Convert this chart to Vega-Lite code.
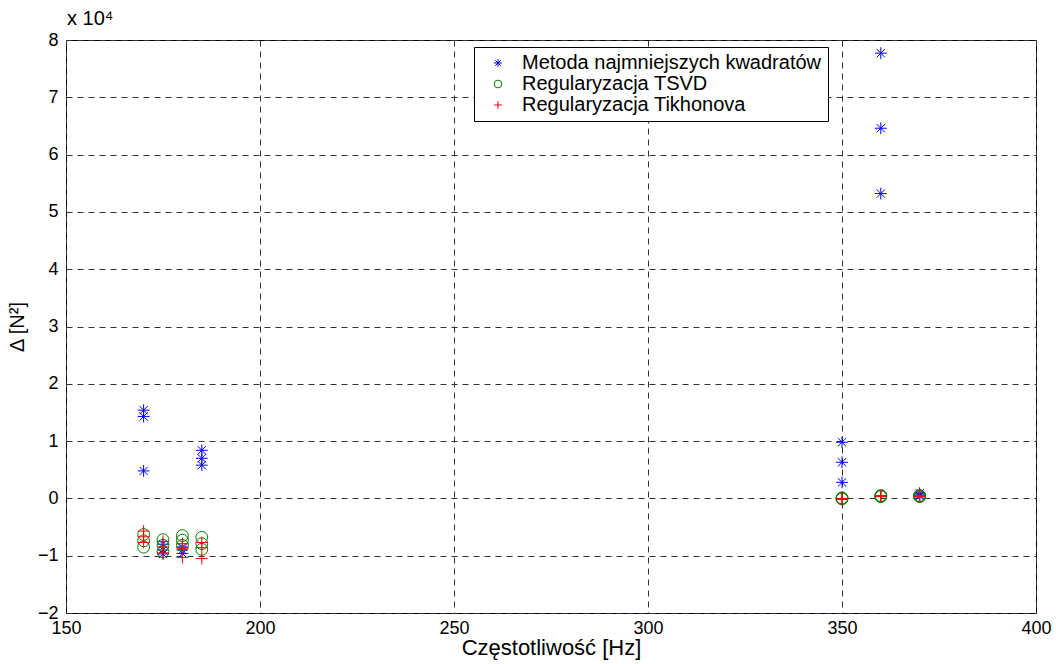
{
  "$schema": "https://vega.github.io/schema/vega-lite/v6.json",
  "width": 970,
  "height": 573,
  "autosize": {"type": "none"},
  "padding": {"left": 66, "top": 40, "right": 20, "bottom": 51},
  "background": "white",
  "config": {
    "font": "Liberation Sans",
    "view": {"stroke": "black", "strokeWidth": 1}
  },
  "title": {
    "text": "x 10⁴",
    "anchor": "start",
    "frame": "group",
    "fontSize": 20,
    "fontWeight": "normal",
    "font": "Liberation Sans",
    "color": "black",
    "offset": 2,
    "dx": 1
  },
  "data": {
    "values": [
      {"f": 170, "d": 15400, "m": "Metoda najmniejszych kwadratów"},
      {"f": 170, "d": 14300, "m": "Metoda najmniejszych kwadratów"},
      {"f": 170, "d": 4800, "m": "Metoda najmniejszych kwadratów"},
      {"f": 175, "d": -8000, "m": "Metoda najmniejszych kwadratów"},
      {"f": 175, "d": -9000, "m": "Metoda najmniejszych kwadratów"},
      {"f": 175, "d": -9700, "m": "Metoda najmniejszych kwadratów"},
      {"f": 180, "d": -8500, "m": "Metoda najmniejszych kwadratów"},
      {"f": 180, "d": -9000, "m": "Metoda najmniejszych kwadratów"},
      {"f": 180, "d": -9600, "m": "Metoda najmniejszych kwadratów"},
      {"f": 185, "d": 8400, "m": "Metoda najmniejszych kwadratów"},
      {"f": 185, "d": 7000, "m": "Metoda najmniejszych kwadratów"},
      {"f": 185, "d": 5800, "m": "Metoda najmniejszych kwadratów"},
      {"f": 350, "d": 9800, "m": "Metoda najmniejszych kwadratów"},
      {"f": 350, "d": 6300, "m": "Metoda najmniejszych kwadratów"},
      {"f": 350, "d": 2800, "m": "Metoda najmniejszych kwadratów"},
      {"f": 360, "d": 77700, "m": "Metoda najmniejszych kwadratów"},
      {"f": 360, "d": 64600, "m": "Metoda najmniejszych kwadratów"},
      {"f": 360, "d": 53200, "m": "Metoda najmniejszych kwadratów"},
      {"f": 370, "d": 900, "m": "Metoda najmniejszych kwadratów"},
      {"f": 370, "d": 600, "m": "Metoda najmniejszych kwadratów"},
      {"f": 370, "d": 400, "m": "Metoda najmniejszych kwadratów"},
      {"f": 170, "d": -6300, "m": "Regularyzacja TSVD"},
      {"f": 170, "d": -7400, "m": "Regularyzacja TSVD"},
      {"f": 170, "d": -8500, "m": "Regularyzacja TSVD"},
      {"f": 175, "d": -7200, "m": "Regularyzacja TSVD"},
      {"f": 175, "d": -8200, "m": "Regularyzacja TSVD"},
      {"f": 175, "d": -9300, "m": "Regularyzacja TSVD"},
      {"f": 180, "d": -6500, "m": "Regularyzacja TSVD"},
      {"f": 180, "d": -7300, "m": "Regularyzacja TSVD"},
      {"f": 180, "d": -8200, "m": "Regularyzacja TSVD"},
      {"f": 185, "d": -6800, "m": "Regularyzacja TSVD"},
      {"f": 185, "d": -7900, "m": "Regularyzacja TSVD"},
      {"f": 185, "d": -8900, "m": "Regularyzacja TSVD"},
      {"f": 350, "d": 100, "m": "Regularyzacja TSVD"},
      {"f": 350, "d": 0, "m": "Regularyzacja TSVD"},
      {"f": 350, "d": -100, "m": "Regularyzacja TSVD"},
      {"f": 360, "d": 500, "m": "Regularyzacja TSVD"},
      {"f": 360, "d": 400, "m": "Regularyzacja TSVD"},
      {"f": 360, "d": 300, "m": "Regularyzacja TSVD"},
      {"f": 370, "d": 500, "m": "Regularyzacja TSVD"},
      {"f": 370, "d": 400, "m": "Regularyzacja TSVD"},
      {"f": 370, "d": 300, "m": "Regularyzacja TSVD"},
      {"f": 170, "d": -5700, "m": "Regularyzacja Tikhonova"},
      {"f": 170, "d": -6700, "m": "Regularyzacja Tikhonova"},
      {"f": 170, "d": -7700, "m": "Regularyzacja Tikhonova"},
      {"f": 175, "d": -7500, "m": "Regularyzacja Tikhonova"},
      {"f": 175, "d": -8500, "m": "Regularyzacja Tikhonova"},
      {"f": 175, "d": -9500, "m": "Regularyzacja Tikhonova"},
      {"f": 180, "d": -7900, "m": "Regularyzacja Tikhonova"},
      {"f": 180, "d": -8700, "m": "Regularyzacja Tikhonova"},
      {"f": 180, "d": -10300, "m": "Regularyzacja Tikhonova"},
      {"f": 185, "d": -7700, "m": "Regularyzacja Tikhonova"},
      {"f": 185, "d": -8600, "m": "Regularyzacja Tikhonova"},
      {"f": 185, "d": -10500, "m": "Regularyzacja Tikhonova"},
      {"f": 350, "d": 0, "m": "Regularyzacja Tikhonova"},
      {"f": 350, "d": -100, "m": "Regularyzacja Tikhonova"},
      {"f": 350, "d": -200, "m": "Regularyzacja Tikhonova"},
      {"f": 360, "d": 500, "m": "Regularyzacja Tikhonova"},
      {"f": 360, "d": 400, "m": "Regularyzacja Tikhonova"},
      {"f": 360, "d": 300, "m": "Regularyzacja Tikhonova"},
      {"f": 370, "d": 500, "m": "Regularyzacja Tikhonova"},
      {"f": 370, "d": 400, "m": "Regularyzacja Tikhonova"},
      {"f": 370, "d": 300, "m": "Regularyzacja Tikhonova"}
    ]
  },
  "mark": {"type": "point", "filled": false, "strokeWidth": 1, "size": 140, "opacity": 1},
  "encoding": {
    "x": {
      "field": "f",
      "type": "quantitative",
      "scale": {"domain": [150, 400], "nice": false, "zero": false},
      "axis": {
        "values": [150, 200, 250, 300, 350, 400],
        "title": "Częstotliwość [Hz]",
        "titleFontSize": 22,
        "titleFontWeight": "normal",
        "titleColor": "black",
        "titlePadding": 0,
        "labelFontSize": 18,
        "labelColor": "black",
        "labelPadding": 6,
        "labelFlush": false,
        "domain": false,
        "ticks": false,
        "grid": true,
        "gridColor": "#333333",
        "gridDash": [6, 5],
        "gridOpacity": 1
      }
    },
    "y": {
      "field": "d",
      "type": "quantitative",
      "scale": {"domain": [-20000, 80000], "nice": false, "zero": false},
      "axis": {
        "values": [-20000, -10000, 0, 10000, 20000, 30000, 40000, 50000, 60000, 70000, 80000],
        "labelExpr": "format(datum.value / 10000, 'd')",
        "title": "Δ [N²]",
        "titleFontSize": 20,
        "titleFontWeight": "normal",
        "titleColor": "black",
        "titlePadding": 10,
        "labelFontSize": 18,
        "labelColor": "black",
        "labelPadding": 8,
        "labelFlush": false,
        "domain": false,
        "ticks": false,
        "grid": true,
        "gridColor": "#333333",
        "gridDash": [6, 5],
        "gridOpacity": 1
      }
    },
    "color": {
      "field": "m",
      "type": "nominal",
      "scale": {
        "domain": ["Metoda najmniejszych kwadratów", "Regularyzacja TSVD", "Regularyzacja Tikhonova"],
        "range": ["#0000ff", "#008000", "#ff0000"]
      },
      "legend": {
        "title": null,
        "orient": "none",
        "legendX": 408,
        "legendY": 7,
        "fillColor": "white",
        "strokeColor": "black",
        "padding": 6,
        "labelFontSize": 20,
        "labelLimit": 500,
        "labelColor": "black",
        "symbolSize": 60,
        "symbolStrokeWidth": 1,
        "rowPadding": 1,
        "labelOffset": 14,
        "symbolOffset": 8
      }
    },
    "shape": {
      "field": "m",
      "type": "nominal",
      "scale": {
        "domain": ["Metoda najmniejszych kwadratów", "Regularyzacja TSVD", "Regularyzacja Tikhonova"],
        "range": [
          "M0,-1L0,1M-1,0L1,0M-0.7,-0.7L0.7,0.7M-0.7,0.7L0.7,-0.7",
          "circle",
          "M-1,0L1,0M0,-1L0,1"
        ]
      }
    }
  }
}
